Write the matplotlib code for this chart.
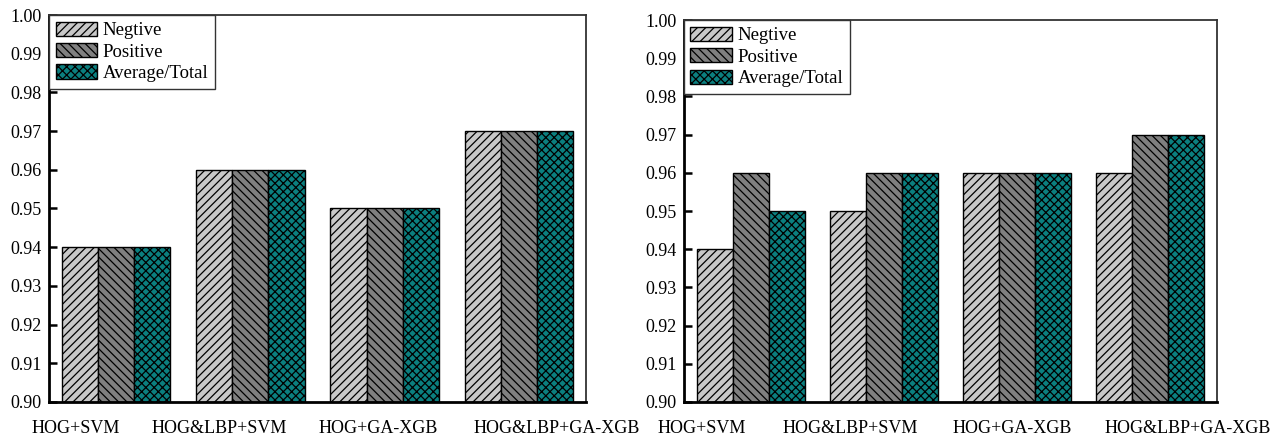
import numpy as np
import matplotlib
matplotlib.use("Agg")
import matplotlib.pyplot as plt

plt.rcParams['font.family'] = ['Liberation Serif', 'DejaVu Serif']
plt.rcParams['hatch.linewidth'] = 0.9

methods = ['HOG+SVM', 'HOG&LBP+SVM', 'HOG+GA-XGB', 'HOG&LBP+GA-XGB']
series_names = ['Negtive', 'Positive', 'Average/Total']

# left panel
left_neg = [0.94, 0.96, 0.95, 0.97]
left_pos = [0.94, 0.96, 0.95, 0.97]
left_avg = [0.94, 0.96, 0.95, 0.97]

# right panel
right_neg = [0.94, 0.95, 0.96, 0.96]
right_pos = [0.96, 0.96, 0.96, 0.97]
right_avg = [0.95, 0.96, 0.96, 0.97]

# label offsets relative to group centre (labels are not centred in the original)
left_label_shift = [-0.30, -0.23, -0.045, 0.28]
right_label_shift = [-0.37, -0.25, -0.04, 0.28]

faces = ['#c8c8c8', '#808080', '#0b7f7f']
hatches = ['////', '\\\\\\\\', 'xxxx']


def draw_panel(ax, data, shifts):
    x = np.arange(len(methods))
    w = 0.27
    for i, (vals, name) in enumerate(zip(data, series_names)):
        ax.bar(x + (i - 1) * w, np.array(vals) - 0.90, w, bottom=0.90,
               color=faces[i], hatch=hatches[i], edgecolor='black',
               linewidth=1.0, label=name)
    ax.set_xlim(-0.5, 3.5)
    ax.set_ylim(0.90, 1.00)
    ax.set_yticks(np.arange(0.90, 1.001, 0.01))
    ax.set_yticklabels(['%.2f' % v for v in np.arange(0.90, 1.001, 0.01)])
    ax.set_xticks(x + np.array(shifts))
    ax.set_xticklabels(methods)
    ax.tick_params(axis='x', length=0, pad=13, labelsize=13)
    ax.tick_params(axis='y', direction='in', length=6, width=1.8,
                   labelsize=13, pad=5)
    for s in ['left', 'bottom']:
        ax.spines[s].set_linewidth(2.0)
        ax.spines[s].set_color('black')
    for s in ['top', 'right']:
        ax.spines[s].set_linewidth(1.3)
        ax.spines[s].set_color('#333333')
    leg = ax.legend(loc='upper left', borderaxespad=0, fontsize=13.5,
                    fancybox=False, framealpha=1, edgecolor='#333333',
                    handlelength=2.2, handleheight=0.8, labelspacing=0.2,
                    handletextpad=0.3, borderpad=0.35)
    leg.get_frame().set_linewidth(1.0)


fig = plt.figure(figsize=(12.88, 4.40), dpi=100)
ax1 = fig.add_axes([0.038, 0.0864, 0.417, 0.8795])
ax2 = fig.add_axes([0.531, 0.0864, 0.4138, 0.868])

draw_panel(ax1, [left_neg, left_pos, left_avg], left_label_shift)
draw_panel(ax2, [right_neg, right_pos, right_avg], right_label_shift)

fig.savefig('out.png', dpi=100)
